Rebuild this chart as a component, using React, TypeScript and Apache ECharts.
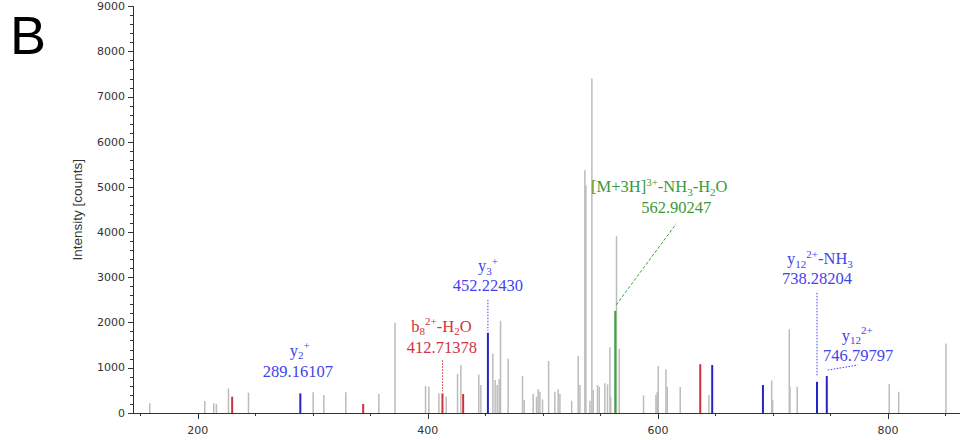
import React, { useEffect, useRef } from "react";
import * as echarts from "echarts";

// ---- data (m/z, intensity in counts) ----
const grayMz = [158.3, 206.1, 213.9, 216.2, 226.7, 244.1, 300.3, 309.6, 328.7, 357.4, 371.5, 398.0, 400.9, 409.6, 416.0, 425.8, 428.7, 444.3, 446.1, 456.5, 458.5, 460.3, 462.0, 463.2, 469.8, 482.3, 483.8, 491.6, 494.5, 495.9, 497.4, 499.7, 505.0, 510.4, 513.3, 514.8, 525.0, 530.7, 532.2, 536.5, 537.4, 540.9, 542.6, 543.8, 547.5, 549.0, 553.9, 556.2, 558.3, 559.0, 564.0, 566.4, 587.5, 598.3, 599.4, 600.3, 607.0, 608.1, 619.4, 644.3, 698.9, 699.7, 714.2, 714.8, 721.1, 801.1, 809.3, 850.4];
const grayInt = [214, 265, 214, 200, 546, 450, 457, 398, 457, 420, 2000, 597, 582, 435, 361, 863, 1062, 855, 620, 1320, 730, 619, 745, 2042, 1200, 818, 288, 420, 361, 524, 472, 300, 1150, 472, 524, 420, 270, 1260, 619, 5376, 5044, 273, 7405, 509, 619, 582, 656, 634, 1453, 361, 3916, 1420, 390, 400, 472, 1040, 966, 580, 575, 398, 720, 288, 1851, 582, 582, 640, 472, 1541];

const redMz = [229.9, 343.8, 412.71378, 430.7, 636.8];
const redInt = [361, 200, 435, 420, 1080];

const blueMz = [289.16107, 452.2243, 647.2, 691.3, 738.28204, 746.79797];
const blueInt = [435, 1777, 1062, 619, 690, 818];

const greenMz = [562.90247];
const greenInt = [2263];

const xTickValues = [150, 200, 250, 300, 350, 400, 450, 500, 550, 600, 650, 700, 750, 800, 850];
const xLabelValues = [200, 400, 600, 800];

// annotation texts (peak reference + label lines)
const annotationPeaks = [
  { mz: blueMz[0], inten: blueInt[0] },
  { mz: redMz[2], inten: redInt[2] },
  { mz: blueMz[1], inten: blueInt[1] },
  { mz: greenMz[0], inten: greenInt[0] },
  { mz: blueMz[4], inten: blueInt[4] },
  { mz: blueMz[5], inten: blueInt[5] },
];
const annotationLabels = [
  "{m|y}{sb|2}{sp|+}",
  "{m|b}{sb|8}{sp|2+}{m|-H}{sb|2}{m|O}",
  "{m|y}{sb|3}{sp|+}",
  "{m|[M+3H]}{sp|3+}{m|-NH}{sb|3}{m|-H}{sb|2}{m|O}",
  "{m|y}{sb|12}{sp|2+}{m|-NH}{sb|3}",
  "{m|y}{sb|12}{sp|2+}",
];
const annotationValues = ["289.16107", "412.71378", "452.22430", "562.90247", "738.28204", "746.79797"];

// ---- styling / layout (pixel offsets from the peak top) ----
const BLUE_TEXT = "#4343ee";
const RED_TEXT = "#d2323f";
const GREEN_TEXT = "#3a9a3a";
const annotationLayout = [
  { color: BLUE_TEXT, l1: [-0.5, -43], l2: [-2.5, -22], leader: null, dash: [1.5, 1.5] },
  { color: RED_TEXT, l1: [-1, -67], l2: [-0.6, -46], leader: [0, -33, 0, -2], dash: [1.5, 1.5] },
  { color: BLUE_TEXT, l1: [0, -67], l2: [0, -47], leader: [0, -33, 0, -2], dash: [1.5, 1.5] },
  { color: GREEN_TEXT, l1: [44, -124], l2: [61, -103], leader: [1, -6, 61, -87], dash: [3, 2] },
  { color: BLUE_TEXT, l1: [3, -123], l2: [0, -103], leader: [0, -89, 0, -5], dash: [1.5, 1.5] },
  { color: BLUE_TEXT, l1: [30.5, -41], l2: [31.4, -21], leader: [1, -6, 31, -11], dash: [1.5, 1.5] },
];

function stickSeries(name: string, mz: number[], inten: number[], color: string, width: number) {
  return {
    type: "custom",
    name,
    silent: true,
    xAxisIndex: 0,
    yAxisIndex: 0,
    data: mz.map((m, i) => [m, inten[i]]),
    encode: { x: 0, y: 1 },
    renderItem: (params: any, api: any) => {
      const top = api.coord([api.value(0), api.value(1)]);
      const base = api.coord([api.value(0), 0]);
      return {
        type: "line",
        shape: { x1: top[0], y1: top[1], x2: base[0], y2: base[1] },
        style: { stroke: color, lineWidth: width },
      };
    },
  };
}

function annotationSeries() {
  return {
    type: "custom",
    name: "annotations",
    silent: true,
    xAxisIndex: 0,
    yAxisIndex: 0,
    data: annotationPeaks.map((p) => [p.mz, p.inten]),
    encode: { x: 0, y: 1 },
    renderItem: (params: any, api: any) => {
      const i = params.dataIndex;
      const lay = annotationLayout[i];
      const top = api.coord([api.value(0), api.value(1)]);
      const children: any[] = [];
      const rich = {
        m: { fontSize: 16.5, fontFamily: "Liberation Serif", lineHeight: 21 },
        sb: { fontSize: 11, fontFamily: "Liberation Serif", lineHeight: 11, verticalAlign: "bottom" },
        sp: { fontSize: 11, fontFamily: "Liberation Serif", lineHeight: 11, verticalAlign: "top" },
      };
      children.push({
        type: "text",
        x: top[0] + lay.l1[0],
        y: top[1] + lay.l1[1],
        style: {
          text: annotationLabels[i],
          rich,
          fill: lay.color,
          align: "center",
          verticalAlign: "middle",
        },
      });
      children.push({
        type: "text",
        x: top[0] + lay.l2[0],
        y: top[1] + lay.l2[1],
        style: {
          text: annotationValues[i],
          fill: lay.color,
          fontSize: 16.5,
          fontFamily: "Liberation Serif",
          align: "center",
          verticalAlign: "middle",
        },
      });
      if (lay.leader) {
        children.push({
          type: "line",
          shape: {
            x1: top[0] + lay.leader[0],
            y1: top[1] + lay.leader[1],
            x2: top[0] + lay.leader[2],
            y2: top[1] + lay.leader[3],
          },
          style: { stroke: lay.color, lineWidth: 1, lineDash: lay.dash },
        });
      }
      return { type: "group", children };
    },
  };
}

export default function App() {
  const ref = useRef<HTMLDivElement>(null);
  useEffect(() => {
    if (!ref.current) return;
    const chart = echarts.init(ref.current, undefined, { renderer: "svg" });
    const axisColor = "#333333";
    chart.setOption({
      animation: false,
      backgroundColor: "#ffffff",
      grid: { left: 133, right: 0, top: 6.5, bottom: 27, containLabel: false },
      graphic: [
        {
          type: "text",
          left: 10,
          top: 8,
          style: { text: "B", fontSize: 54, fontFamily: "Liberation Sans", fill: "#000000" },
        },
      ],
      xAxis: [
        {
          type: "value",
          position: "bottom",
          min: 143.7,
          max: 862.6,
          axisLine: { show: true, lineStyle: { color: axisColor, width: 1 } },
          axisTick: { show: true, length: 3, customValues: xTickValues, lineStyle: { color: axisColor } },
          axisLabel: {
            show: true,
            customValues: xLabelValues,
            fontSize: 11,
            fontFamily: "DejaVu Sans",
            color: "#333333",
            margin: 12,
          },
          splitLine: { show: false },
        },
        {
          type: "value",
          position: "bottom",
          offset: 0,
          min: 143.7,
          max: 862.6,
          axisLine: { show: false },
          axisTick: { show: true, length: 6, customValues: xLabelValues, lineStyle: { color: axisColor } },
          axisLabel: { show: false },
          splitLine: { show: false },
        },
      ],
      yAxis: {
        type: "value",
        min: 0,
        max: 9000,
        interval: 1000,
        name: "Intensity [counts]",
        nameLocation: "middle",
        nameRotate: 90,
        nameGap: 49,
        nameTextStyle: { fontSize: 13.5, fontFamily: "Liberation Sans", color: "#333333" },
        axisLine: { show: true, lineStyle: { color: axisColor, width: 1 } },
        axisTick: { show: true, length: 5, lineStyle: { color: axisColor } },
        minorTick: { show: true, splitNumber: 5, length: 3, lineStyle: { color: axisColor } },
        axisLabel: {
          fontSize: 11,
          fontFamily: "DejaVu Sans",
          color: "#333333",
          margin: 8,
          formatter: (v: number) => String(v),
        },
        splitLine: { show: false },
        minorSplitLine: { show: false },
      },
      series: [
        stickSeries("other", grayMz, grayInt, "#bcbcbc", 1.5),
        stickSeries("b ions", redMz, redInt, "#d0303c", 2),
        stickSeries("y ions", blueMz, blueInt, "#2424c4", 2),
        stickSeries("precursor", greenMz, greenInt, "#3aa83a", 2),
        annotationSeries(),
      ],
    });
    return () => chart.dispose();
  }, []);
  return (
    <div
      ref={ref}
      style={{ position: "fixed", left: 0, top: 0, width: 960, height: 440, background: "#ffffff" }}
    />
  );
}
